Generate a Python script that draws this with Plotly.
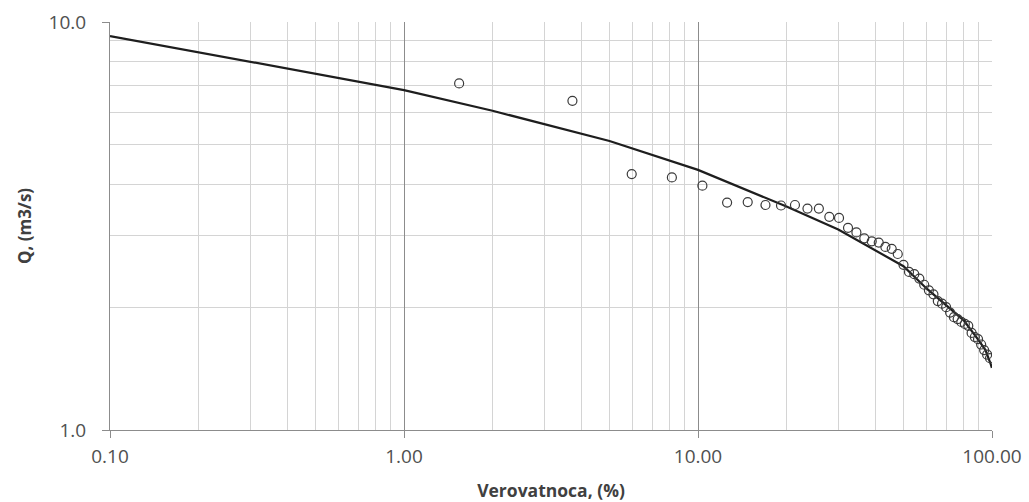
import plotly.graph_objects as go

# Empirical points: probability of exceedance (%) and discharge Q (m3/s)
obs_p = [1.54, 3.74, 5.95, 8.15, 10.35, 12.56, 14.76, 16.96, 19.16, 21.37,
         23.57, 25.77, 27.97, 30.18, 32.38, 34.58, 36.78, 38.99, 41.19, 43.39,
         45.59, 47.80, 50.00, 52.20, 54.41, 56.61, 58.81, 61.01, 63.22, 65.42,
         67.62, 69.82, 72.03, 74.23, 76.43, 78.63, 80.84, 83.04, 85.24, 87.44,
         89.65, 91.85, 94.05, 96.26, 98.46]
obs_q = [7.07, 6.41, 4.24, 4.16, 3.97, 3.61, 3.62, 3.56, 3.55, 3.56,
         3.49, 3.49, 3.33, 3.31, 3.13, 3.05, 2.95, 2.90, 2.88, 2.81,
         2.78, 2.70, 2.54, 2.44, 2.41, 2.35, 2.27, 2.20, 2.15, 2.07,
         2.04, 2.00, 1.94, 1.89, 1.87, 1.84, 1.82, 1.80, 1.73, 1.69,
         1.67, 1.62, 1.57, 1.53, 1.50]

# Fitted theoretical curve
fit_p = [0.1, 1, 2, 5, 10, 20, 30, 40, 50, 60, 70, 80, 90, 95, 99, 99.9]
fit_q = [9.24, 6.81, 6.06, 5.11, 4.34, 3.53, 3.10, 2.76, 2.52, 2.22, 2.02, 1.86, 1.66, 1.57, 1.45, 1.42]

x_ticks = [0.1, 1, 10, 100]
x_ticktext = ["0.10", "1.00", "10.00", "100.00"]
y_ticks = [1, 10]
y_ticktext = ["1.0", "10.0"]
x_minor = [0.2, 0.3, 0.4, 0.5, 0.6, 0.7, 0.8, 0.9, 2, 3, 4, 5, 6, 7, 8, 9,
           20, 30, 40, 50, 60, 70, 80, 90]
y_minor = [2, 3, 4, 5, 6, 7, 8, 9]

fig = go.Figure()
fig.add_trace(go.Scatter(x=fit_p, y=fit_q, mode="lines",
                         line=dict(color="#1e1e1e", width=2.2), showlegend=False))
fig.add_trace(go.Scatter(x=obs_p, y=obs_q, mode="markers",
                         marker=dict(symbol="circle-open", size=9,
                                     color="#3a3a3a", line=dict(width=1.2)),
                         showlegend=False))

font_fam = "'Open Sans', sans-serif"
fig.update_layout(
    width=1029, height=502,
    margin=dict(l=110, r=37, t=22, b=72),
    paper_bgcolor="white", plot_bgcolor="white",
    font=dict(family=font_fam, color="#404040"),
    xaxis=dict(type="log", range=[-1, 2], tickvals=x_ticks, ticktext=x_ticktext,
               automargin=False,
               showgrid=True, gridcolor="#8c8c8c", gridwidth=1,
               showline=True, linecolor="#8c8c8c", linewidth=1,
               ticks="outside", ticklen=7, tickcolor="#8c8c8c",
               ticklabelstandoff=2,
               tickfont=dict(size=19, color="#505050"),
               minor=dict(tickvals=x_minor, showgrid=True, gridcolor="#d4d4d4",
                          gridwidth=1, ticks=""),
               title=dict(text="<b>Verovatnoca, (%)</b>", font=dict(size=17.5, color="#404040"),
                          standoff=16),
               zeroline=False),
    yaxis=dict(type="log", range=[0, 1], tickvals=y_ticks, ticktext=y_ticktext,
               automargin=False,
               showgrid=True, gridcolor="#d4d4d4", gridwidth=1,
               showline=True, linecolor="#8c8c8c", linewidth=1,
               ticks="outside", ticklen=7, tickcolor="#8c8c8c",
               ticklabelstandoff=12,
               tickfont=dict(size=19, color="#505050"),
               minor=dict(tickvals=y_minor, showgrid=True, gridcolor="#d4d4d4",
                          gridwidth=1, ticks=""),
               title=dict(text="<b>Q, (m3/s)</b>", font=dict(size=17, color="#404040"),
                          standoff=12),
               zeroline=False),
)

fig.write_html("out.html", config={"displayModeBar": False})
with open("out.html", "r", encoding="utf-8") as f:
    html = f.read()
html = html.replace("<head>", "<head><style>html,body{margin:0;padding:0;overflow:hidden;}</style>", 1)
with open("out.html", "w", encoding="utf-8") as f:
    f.write(html)
